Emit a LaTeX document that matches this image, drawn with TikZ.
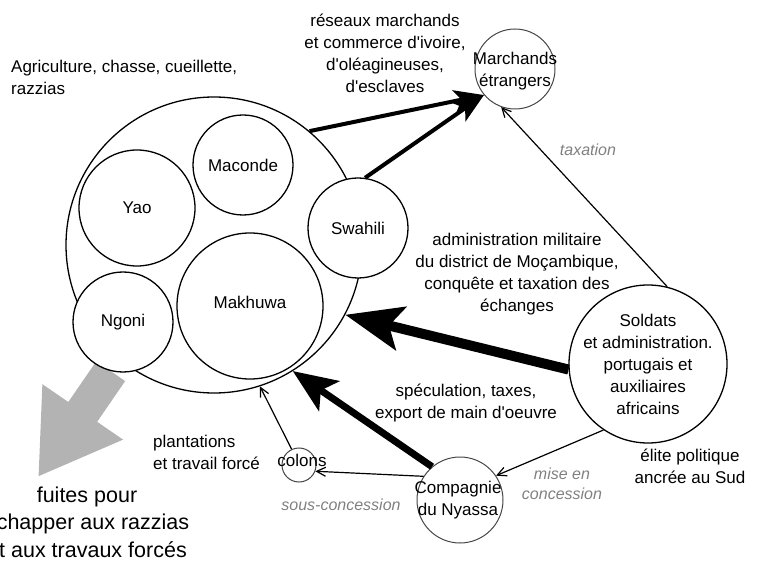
\documentclass[tikz,border=0pt]{standalone}
\usepackage{fontspec}
\setmainfont{Liberation Sans}
\usepackage{tikz}
\usetikzlibrary{arrows.meta}
\usetikzlibrary{backgrounds}
\definecolor{ColNote}{RGB}{128,128,128}
\definecolor{ColFlee}{RGB}{179,179,179}
\definecolor{ColRim}{RGB}{70,70,70}
\tikzstyle{TextLabel}=[font=\fontsize{17}{22}\selectfont,align=center,inner sep=0pt]
\tikzstyle{GreyNote}=[font=\fontsize{16}{20}\selectfont\itshape,text=ColNote,align=center,inner sep=0pt]
\tikzstyle{GroupCircle}=[circle,draw,fill=white,line width=1.3pt,inner sep=0pt]
\tikzstyle{ActorCircle}=[circle,draw=ColRim,fill=white,line width=1pt,inner sep=0pt]
\tikzstyle{ThinEdge}=[line width=1.2pt,-{Straight Barb[length=9pt,width=9pt]}]
\tikzstyle{MidEdge}=[line width=4pt,-{Stealth[length=30pt,width=22pt,inset=7pt]}]
\tikzstyle{LargeEdge}=[line width=7pt,-{Stealth[length=44pt,width=36pt,inset=10pt]}]
\tikzstyle{BigEdge}=[line width=10pt,-{Stealth[length=57pt,width=44pt,inset=12pt]}]
\tikzstyle{FleeEdge}=[ColFlee,line width=35pt,-{Triangle[length=79pt,width=92pt]}]
\newcommand{\apos}{\textquotesingle}

\begin{document}
\begin{tikzpicture}[x=1pt,y=-1pt]
        \useasboundingbox(0,0)rectangle(758,561);
        % populations
        \node[GroupCircle,minimum size=296pt](pop)at(214,245){};
        \node[GroupCircle,minimum size=100pt,label={[TextLabel]center:Maconde}](maconde)at(243,165){};
        \node[GroupCircle,minimum size=116pt,label={[TextLabel]center:Yao}](yao)at(137,208){};
        \node[GroupCircle,minimum size=100pt,label={[TextLabel]center:Ngoni}](ngoni)at(123,322){};
        \node[GroupCircle,minimum size=146pt,label={[TextLabel,yshift=4pt]center:Makhuwa}](makhuwa)at(250,306){};
        \node[GroupCircle,minimum size=100pt,label={[TextLabel]center:Swahili}](swahili)at(358,228){};
        % acteurs
        \node[ActorCircle,minimum size=80pt,label={[TextLabel,yshift=-2pt]center:Marchands\\étrangers}](marchands)at(515,69){};
        \node[GroupCircle,minimum size=158pt,label={[TextLabel]center:Soldats\\et administration.\\portugais et\\auxiliaires\\africains}](soldats)at(648,364){};
        \node[ActorCircle,minimum size=86pt,label={[TextLabel,xshift=-2pt]center:Compagnie\\du Nyassa}](compagnie)at(460,500){};
        \node[ActorCircle,minimum size=34pt,label={[TextLabel,xshift=3pt,yshift=5pt]center:colons}](colons)at(299,465){};
        \coordinate(fuiteTip)at(38,477);
        % flux
        \draw[MidEdge](pop.50)--(marchands.220);
        \draw[MidEdge](swahili.82)--(marchands.220);
        \draw[ThinEdge](soldats.76)--(marchands.250);
        \draw[BigEdge](soldats.184)--(pop.-28);
        \draw[LargeEdge](compagnie.130)--(pop.-58);
        \draw[ThinEdge](soldats.236)--(compagnie.34);
        \draw[ThinEdge](compagnie.147)--(colons.-21);
        \draw[ThinEdge](colons.115)--(pop.-72);
        \begin{scope}[on background layer]
        \draw[FleeEdge](ngoni.-104)--(fuiteTip);
        \end{scope}
        % textes
        \node[TextLabel,anchor=west,align=left](agri)at(11,77){Agriculture, chasse, cueillette,\\razzias};
        \node[TextLabel](reseaux)at(385,53){réseaux marchands\\et commerce d\apos ivoire,\\d\apos oléagineuses,\\d\apos esclaves};
        \node[TextLabel](admin)at(517,274){administration militaire\\du district de Moçambique,\\conquête et taxation des\\échanges};
        \node[TextLabel](spec)at(466,403){spéculation, taxes,\\export de main d\apos oeuvre};
        \node[TextLabel,anchor=west,align=left](plant)at(153,452){plantations\\et travail forcé};
        \node[TextLabel](elite)at(690,466){élite politique\\ancrée au Sud};
        \node[TextLabel,font=\fontsize{21.5}{27.5}\selectfont](fuites)at(87,522){fuites pour\\échapper aux razzias\\et aux travaux forcés};
        \node[GreyNote](tax)at(588,150){taxation};
        \node[GreyNote](mise)at(562,484){mise en\\concession};
        \node[GreyNote](sous)at(341,505){sous-concession};
    \end{tikzpicture}
\end{document}
